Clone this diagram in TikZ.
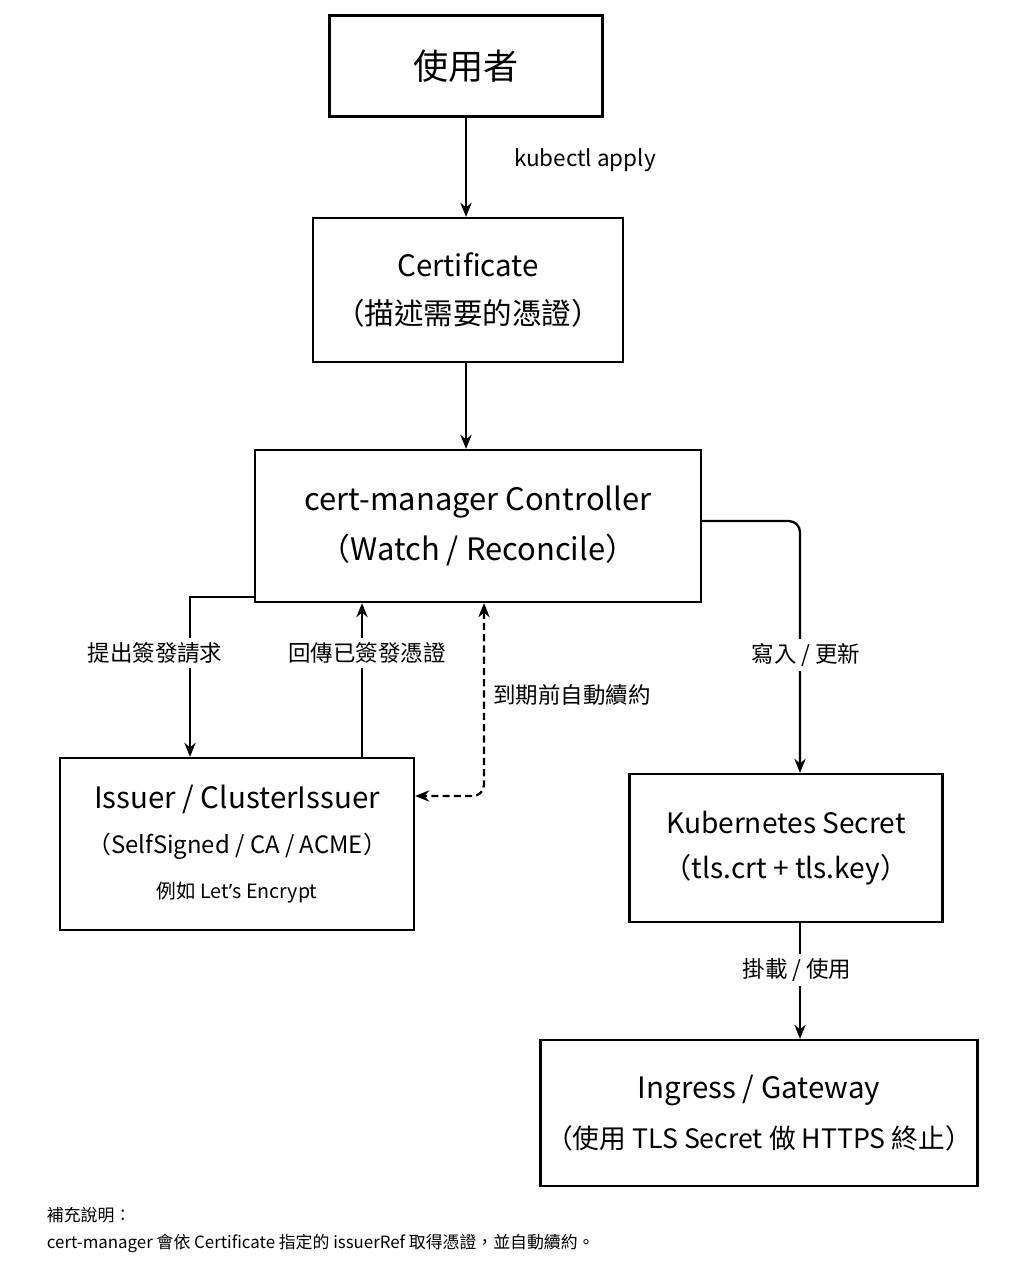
\documentclass[tikz,border=0pt]{standalone}
\usepackage{fontspec}
\setmainfont{Noto Sans CJK TC}
\newfontfamily\latinfont{Noto Sans}
\usetikzlibrary{arrows.meta,positioning}

\begin{document}
\begin{tikzpicture}[
    x=0.025cm, y=-0.025cm,
    box/.style={draw, line width=1.6pt, align=center, inner sep=0pt},
    flow/.style={line width=1.6pt, -{Stealth[length=10pt,width=8pt]}},
    label/.style={fill=white, font=\fontsize{16}{19}\selectfont},
    every node/.style={color=black}
    ]

\useasboundingbox (0,0) rectangle (1024,1280);

% boxes
\node[box, minimum width=273*0.025cm, minimum height=101*0.025cm,
      font=\fontsize{25}{28}\selectfont] (user) at (466,66) {使用者};
\node[box, minimum width=310*0.025cm, minimum height=144*0.025cm,
      font=\fontsize{21}{34}\selectfont] (cert) at (468,290)
    {Certificate\\（描述需要的憑證）};
\node[box, minimum width=446*0.025cm, minimum height=152*0.025cm,
      font=\fontsize{22}{36}\selectfont] (ctrl) at (478,526)
    {cert-manager Controller\\（Watch / Reconcile）};
\node[box, minimum width=354*0.025cm, minimum height=172*0.025cm,
      font=\fontsize{21}{32}\selectfont] (issuer) at (237,844)
    {Issuer / ClusterIssuer\\{\fontsize{17}{28}\selectfont（SelfSigned / CA / ACME）}\\{\fontsize{14}{20}\selectfont 例如 Let{\latinfont ’}s Encrypt}};
\node[box, minimum width=313*0.025cm, minimum height=148*0.025cm,
      font=\fontsize{20}{32}\selectfont] (secret) at (786,848)
    {Kubernetes Secret\\（tls.crt + tls.key）};
\node[box, minimum width=437*0.025cm, minimum height=146*0.025cm,
      font=\fontsize{21}{36}\selectfont] (ingress) at (759,1113)
    {Ingress / Gateway\\{\fontsize{19}{32}\selectfont（使用 TLS Secret 做 HTTPS 終止）}};

% connectors
\coordinate (reqL) at (190,597);
\coordinate (renew) at (484,796);
\coordinate (wr) at (800,521);
\draw[flow] (user.south -| 466,0) -- (cert.north -| 466,0);
\draw[flow] (cert.south -| 466,0) -- (ctrl.north -| 466,0);
\draw[flow] (ctrl.south west |- reqL) -- (reqL) -- (reqL |- issuer.north);
\draw[flow] (issuer.north -| 362,0) -- (ctrl.south -| 362,0);
\draw[flow, {Stealth[length=10pt,width=8pt]}-{Stealth[length=10pt,width=8pt]},
    dash pattern=on 5pt off 3pt, rounded corners=8pt]
    (ctrl.south -| renew) -- (renew) -- (issuer.east |- renew);
\draw[flow, rounded corners=8pt] (ctrl.east |- wr) -- (wr) -- (wr |- secret.north);
\draw[flow] (secret.south -| 800,0) -- (ingress.north -| 800,0);

% labels
\node[label] (applyL) at (585,160) {kubectl apply};
\node[label] (reqT) at (155,653) {提出簽發請求};
\node[label] (backT) at (367,653) {回傳已簽發憑證};
\node[label] (renewT) at (572,695) {到期前自動續約};
\node[label] (writeT) at (806,655) {寫入 / 更新};
\node[label] (mountT) at (797,970) {掛載 / 使用};

% note
\node[anchor=west, font=\fontsize{12}{14}\selectfont] (note1) at (42,1215) {補充說明：};
\node[anchor=west, font=\fontsize{12}{14}\selectfont] (note2) at (42,1243)
    {cert-manager 會依 Certificate 指定的 issuerRef 取得憑證，並自動續約。};

\end{tikzpicture}
\end{document}
